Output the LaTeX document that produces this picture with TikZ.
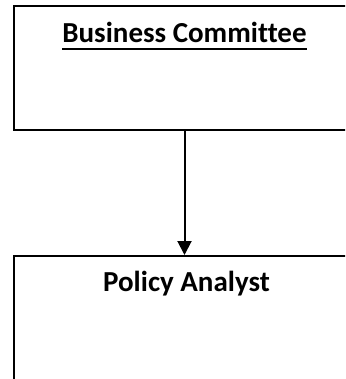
\documentclass[tikz,border=0pt]{standalone}
\usepackage{fontspec}
\setmainfont{Carlito}[Ligatures=NoCommon]
\usetikzlibrary{positioning,arrows.meta}
\tikzset{
	orgbox/.style={draw, line width=2pt, minimum width=342pt, inner sep=0pt},
	orgtitle/.style={font=\fontsize{29}{34}\selectfont\bfseries, inner sep=0pt, anchor=base},
	orgarrow/.style={-{Triangle[width=14pt,length=14pt]}, line width=2pt}
}
\begin{document}
\begin{tikzpicture}[x=1pt,y=1pt]
	\clip (0,0) rectangle (345,-379);
	% boxes
	\node[orgbox, minimum height=123.5pt] at (184.5,-68.25) (committee) {};
	\node[orgbox, minimum height=200pt] at (184.5,-356) (analyst) {};
	% titles
	\node[orgtitle] at ([yshift=-37.5pt]committee.north) (committee_title) {Business Committee};
	\draw[line width=2.6pt] ([yshift=-6pt]committee_title.base west)--([yshift=-6pt]committee_title.base east);
	\node[orgtitle] at ([xshift=2pt,yshift=-36pt]analyst.north) (analyst_title) {Policy Analyst};
	% reporting line
	\draw[orgarrow] (committee.south)--(analyst.north);
\end{tikzpicture}
\end{document}
